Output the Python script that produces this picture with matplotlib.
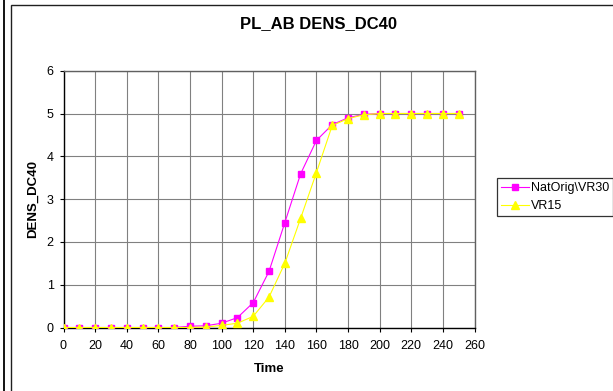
import matplotlib
matplotlib.use('Agg')
import matplotlib.pyplot as plt
from matplotlib.patches import Rectangle
from matplotlib.lines import Line2D

plt.rcParams['font.family'] = ['Liberation Sans', 'DejaVu Sans']

# data
time = [0, 10, 20, 30, 40, 50, 60, 70, 80, 90, 100, 110, 120,
        130, 140, 150, 160, 170, 180, 190, 200, 210, 220, 230, 240, 250]
natorig_vr30 = [0, 0, 0, 0, 0, 0, 0, 0, 0.03, 0.04, 0.10, 0.23, 0.58,
                1.31, 2.45, 3.59, 4.37, 4.74, 4.90, 4.98, 5.0, 5.0, 5.0, 5.0, 5.0, 5.0]
vr15 = [0, 0, 0, 0, 0, 0, 0, 0, 0, 0.01, 0.05, 0.10, 0.26,
        0.71, 1.50, 2.55, 3.62, 4.72, 4.88, 4.97, 5.0, 5.0, 5.0, 5.0, 5.0, 5.0]
series_names = ['NatOrig\\VR30', 'VR15']
x_ticks = list(range(0, 261, 20))
y_ticks = [0, 1, 2, 3, 4, 5, 6]

W, H = 613, 391
fig = plt.figure(figsize=(W / 100, H / 100), dpi=100)

# plot area in pixel terms
left, right, top, bottom = 63.5, 474.5, 70.7, 327.5
ax = fig.add_axes([left / W, 1 - bottom / H, (right - left) / W, (bottom - top) / H])

# outer chart frame (cut by the image edges) and the stray line at far left
fig.patches.append(Rectangle((11 / W, -0.1), 1.2, 1 - 5 / H + 0.1,
                             transform=fig.transFigure, fill=False,
                             edgecolor='#202020', linewidth=1.0))
fig.lines.append(Line2D([3.5 / W, 3.5 / W], [0, 1], transform=fig.transFigure,
                        color='black', linewidth=1.3))

ax.plot(time, natorig_vr30, color='#FF00FF', marker='s', markersize=4.5,
        linewidth=0.8, label=series_names[0], zorder=3)
ax.plot(time, vr15, color='#FFFF00', marker='^', markersize=5.5,
        linewidth=0.8, label=series_names[1], zorder=4)

ax.set_xlim(0, 260)
ax.set_ylim(0, 6)
ax.set_xticks(x_ticks)
ax.set_yticks(y_ticks)
ax.grid(True, color='#808080', linewidth=0.8)
ax.set_axisbelow(True)
ax.tick_params(direction='out', length=3, width=0.8, labelsize=9, colors='black')
ax.tick_params(axis='x', pad=6)
ax.tick_params(axis='y', pad=4)

for s in ['left', 'bottom']:
    ax.spines[s].set_color('black')
    ax.spines[s].set_linewidth(1.0)
for s in ['top', 'right']:
    ax.spines[s].set_color('#606060')
    ax.spines[s].set_linewidth(1.0)

ax.set_xlabel('Time', fontsize=9.5, fontweight='bold', va='center')
ax.xaxis.set_label_coords(0.5, -(369 - bottom) / (bottom - top))
ax.set_ylabel('DENS_DC40', fontsize=9.5, fontweight='bold', va='center')
ax.yaxis.set_label_coords(-(left - 32.7) / (right - left), 0.5)

fig.text(318.7 / W, 1 - 24 / H, 'PL_AB DENS_DC40', fontsize=12,
         fontweight='bold', ha='center', va='center')

leg = fig.legend(loc='upper left', bbox_to_anchor=(497.3 / W, 1 - 178.3 / H),
                 bbox_transform=fig.transFigure, fontsize=9, frameon=True,
                 fancybox=False, edgecolor='black', borderpad=0.3,
                 handlelength=2.2, handletextpad=0.2, labelspacing=0.5,
                 borderaxespad=0)
leg.get_frame().set_linewidth(0.9)

fig.savefig('out.png', dpi=100)
